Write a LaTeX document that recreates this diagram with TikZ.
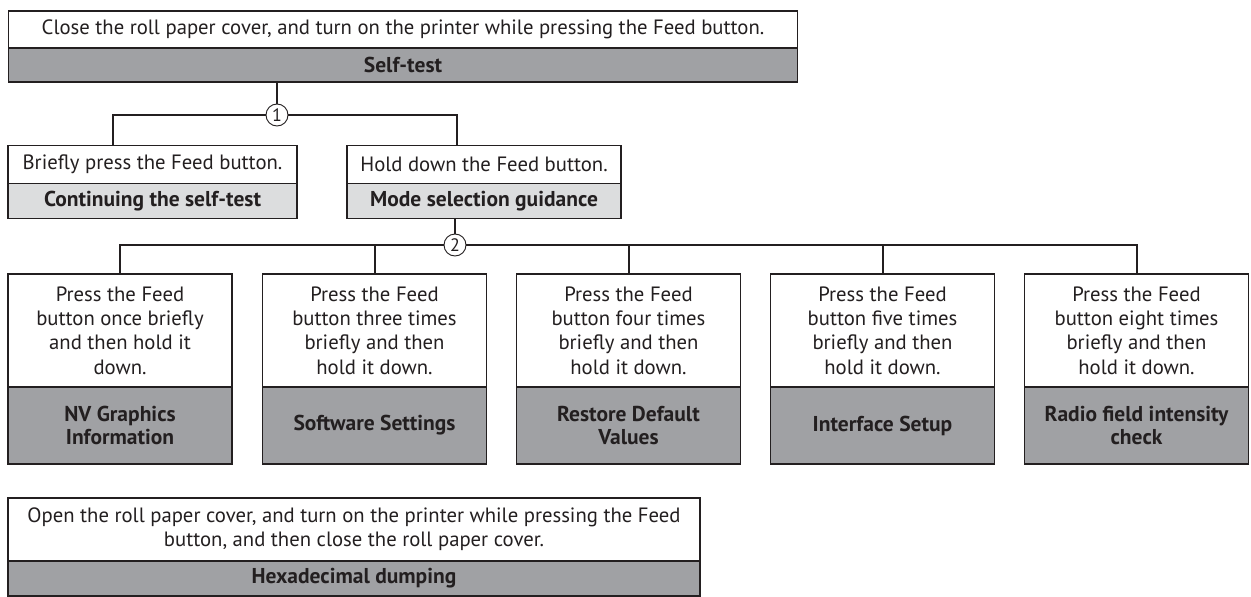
\documentclass[tikz,border=0pt]{standalone}
\usepackage{fontspec}
\setmainfont{PT Sans}
\usetikzlibrary{calc}
\definecolor{ink}{HTML}{231F20}
\definecolor{darkgrey}{HTML}{A0A1A4}
\definecolor{lightgrey}{HTML}{DCDDDE}
\tikzset{
  box/.style={draw=ink, line width=1.4pt, rectangle, inner sep=0pt, align=center, text=ink,
    font=\fontsize{20.7}{24.2}\selectfont},
  wbox/.style={box, fill=white},
  gbox/.style={box, fill=darkgrey, font=\fontsize{21.5}{23.5}\selectfont\bfseries},
  lbox/.style={box, fill=lightgrey, font=\fontsize{21.5}{23.5}\selectfont\bfseries},
  conn/.style={draw=ink, line width=2pt},
  num/.style={circle, draw=ink, line width=0.9pt, fill=white, minimum size=22pt, inner sep=0pt,
    text=ink, font=\fontsize{18}{18}\selectfont},
}
\begin{document}
\begin{tikzpicture}[x=1pt,y=-1pt]
\useasboundingbox (0,0) rectangle (1251,597);
% top
\node[wbox, minimum width=789pt, minimum height=37pt] (top) at (403,29.5)
  {Close the roll paper cover, and turn on the printer while pressing the Feed button.};
\node[gbox, minimum width=789pt, minimum height=34pt] (self) at (403,65) {Self-test};
% circle 1
\node[num] (c1) at (277,115) {1};
% level 2
\node[wbox, minimum width=289pt, minimum height=38pt] (brief) at (152.5,164.5) {Briefly press the Feed button.};
\node[lbox, minimum width=289pt, minimum height=35pt] (cont) at (152.5,201) {Continuing the self-test};
\node[wbox, minimum width=274pt, minimum height=38pt] (hold) at (484,164.5) {Hold down the Feed button.};
\node[lbox, minimum width=274pt, minimum height=35pt] (mode) at (484,201) {Mode selection guidance};
% circle 2
\node[num] (c2) at (455,245) {2};
% level 3
\foreach \n/\x/\t/\g in {
  b1/120/{Press the Feed\\button once briefly\\and then hold it\\down.}/{NV Graphics\\Information},
  b2/374.5/{Press the Feed\\button three times\\briefly and then\\hold it down.}/{Software Settings},
  b3/628.5/{Press the Feed\\button four times\\briefly and then\\hold it down.}/{Restore Default\\Values},
  b4/882.5/{Press the Feed\\button five times\\briefly and then\\hold it down.}/{Interface Setup},
  b5/1136.5/{Press the Feed\\button eight times\\briefly and then\\hold it down.}/{Radio field intensity\\check}}{
  \node[wbox, minimum width=224pt, minimum height=113pt] (\n) at (\x,330.5) {\t};
  \node[gbox, minimum width=224pt, minimum height=77pt] (\n g) at (\x,425.5) {\g};
}
% hex
\node[wbox, minimum width=692pt, minimum height=63pt] (hex) at (354,529.5)
  {Open the roll paper cover, and turn on the printer while pressing the Feed\\button, and then close the roll paper cover.};
\node[gbox, minimum width=692pt, minimum height=35pt] (hexg) at (354,578.5) {Hexadecimal dumping};
% connectors
\draw[conn] (self.south -| c1.north) -- (c1.north);
\draw[conn] (c1.west) -| ($(brief.north west)+(106,0)$) coordinate (bl);
\draw[conn] (c1.east) -| ($(hold.north west)+(111,0)$) coordinate (hr);
\draw[conn] (mode.south -| c2.north) -- (c2.north);
\draw[conn] (c2.west) -| (b1.north);
\draw[conn] (b2.north) -- (b2.north |- c2.center);
\draw[conn] (c2.east) -| (b5.north);
\draw[conn] (b3.north) -- (b3.north |- c2.center);
\draw[conn] (b4.north) -- (b4.north |- c2.center);
\end{tikzpicture}
\end{document}
